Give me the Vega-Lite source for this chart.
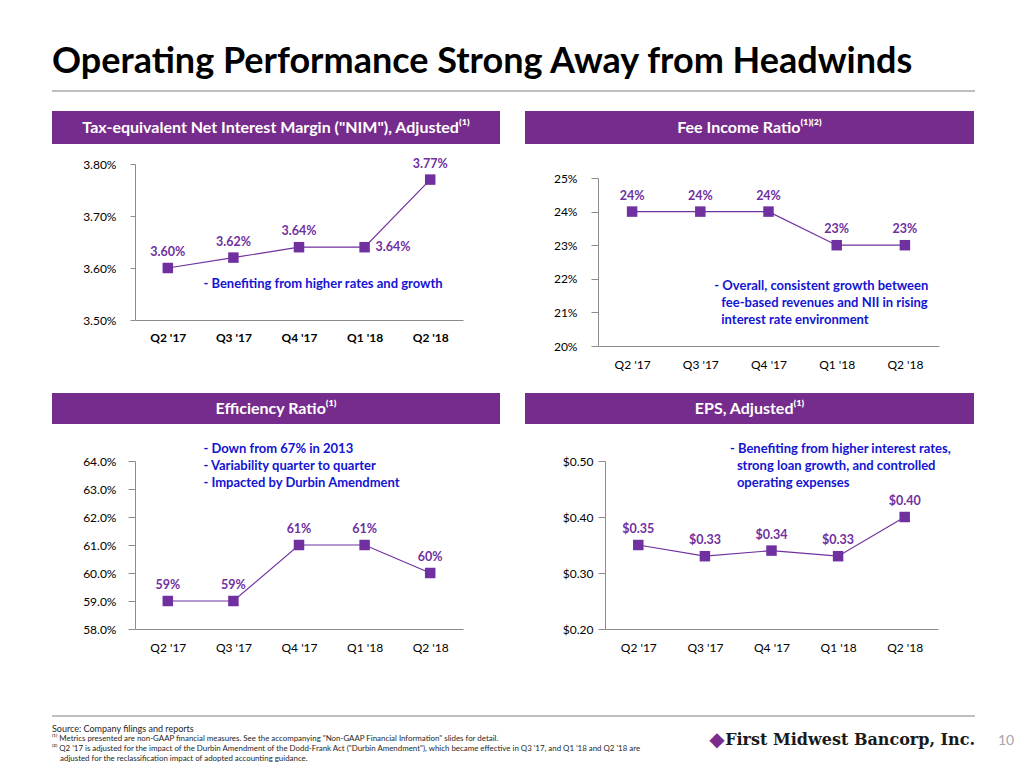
{
  "$schema": "https://vega.github.io/schema/vega-lite/v6.json",
  "background": "white",
  "padding": {"left": 52, "top": 44, "right": 0, "bottom": 0},
  "autosize": {"type": "pad"},
  "config": {
    "font": "Lato",
    "view": {"stroke": null},
    "axis": {"grid": false, "title": null, "domainColor": "#8C8C8C", "tickColor": "#8C8C8C", "labelColor": "#000000", "labelFontSize": 12, "labelFont": "Lato"},
    "axisX": {"ticks": false, "labelAngle": 0, "labelPadding": 12},
    "axisY": {"tickSize": 6}
  },
  "datasets": {
    "nim": [
      {"quarter": "Q2 '17", "value": 0.0360},
      {"quarter": "Q3 '17", "value": 0.0362},
      {"quarter": "Q4 '17", "value": 0.0364},
      {"quarter": "Q1 '18", "value": 0.0364},
      {"quarter": "Q2 '18", "value": 0.0377}
    ],
    "fee": [
      {"quarter": "Q2 '17", "value": 0.24},
      {"quarter": "Q3 '17", "value": 0.24},
      {"quarter": "Q4 '17", "value": 0.24},
      {"quarter": "Q1 '18", "value": 0.23},
      {"quarter": "Q2 '18", "value": 0.23}
    ],
    "eff": [
      {"quarter": "Q2 '17", "value": 0.59},
      {"quarter": "Q3 '17", "value": 0.59},
      {"quarter": "Q4 '17", "value": 0.61},
      {"quarter": "Q1 '18", "value": 0.61},
      {"quarter": "Q2 '18", "value": 0.60}
    ],
    "eps": [
      {"quarter": "Q2 '17", "value": 0.35},
      {"quarter": "Q3 '17", "value": 0.33},
      {"quarter": "Q4 '17", "value": 0.34},
      {"quarter": "Q1 '18", "value": 0.33},
      {"quarter": "Q2 '18", "value": 0.40}
    ]
  },
  "vconcat": [
    {
      "vconcat": [
        {
          "vconcat": [
            {
              "width": 923, "height": 2,
              "view": {"fill": "#BFBFBF", "stroke": null},
              "title": {"text": "Operating Performance Strong Away from Headwinds", "anchor": "start", "frame": "group", "orient": "top", "fontSize": 36, "fontWeight": "bold", "color": "#000000", "font": "Lato", "offset": 9},
              "data": {"values": [{}]},
              "mark": {"type": "rect", "color": "#BFBFBF"},
              "encoding": {}
            },
            {
              "hconcat": [
                {
                  "vconcat": [
                    {
                      "width": 448, "height": 33,
                      "view": {"fill": "#762C8C", "stroke": null},
                      "data": {"values": [{}]},
                      "mark": {"type": "text", "color": "#FFFFFF", "fontSize": 16, "fontWeight": "bold", "align": "center", "baseline": "middle"},
                      "encoding": {"text": {"value": "Tax-equivalent Net Interest Margin (\"NIM\"), Adjusted⁽¹⁾"}}
                    },
                    {
                      "width": 448, "height": 156,
                      "data": {"name": "nim"},
                      "encoding": {
                        "x": {"field": "quarter", "type": "ordinal", "sort": ["Q2 '17", "Q3 '17", "Q4 '17", "Q1 '18", "Q2 '18"], "scale": {"type": "point", "range": [83, 411], "padding": 0.5}, "axis": {"labelFontWeight": "bold"}},
                        "y": {"field": "value", "type": "quantitative", "scale": {"domain": [0.035, 0.038], "nice": false, "zero": false}, "axis": {"values": [0.035, 0.036, 0.037, 0.038], "format": ".2%", "offset": -83, "labelPadding": 14, "tickSize": 5}}
                      },
                      "layer": [
                        {"mark": {"type": "line", "color": "#7030A0", "strokeWidth": 1.2}},
                        {"mark": {"type": "point", "shape": "square", "filled": true, "size": 110, "color": "#7030A0", "opacity": 1}},
                        {"transform": [{"filter": "datum.quarter != \"Q1 '18\""}], "mark": {"type": "text", "color": "#7030A0", "fontSize": 12.5, "fontWeight": "bold", "baseline": "middle", "dy": -16}, "encoding": {"text": {"field": "value", "format": ".2%"}}},
                        {"transform": [{"filter": "datum.quarter == \"Q1 '18\""}], "mark": {"type": "text", "color": "#7030A0", "fontSize": 12.5, "fontWeight": "bold", "baseline": "middle", "align": "left", "dx": 11}, "encoding": {"text": {"field": "value", "format": ".2%"}}},
                        {"transform": [{"filter": "datum.quarter == \"Q3 '17\""}], "mark": {"type": "text", "color": "#1414D2", "fontSize": 13, "fontWeight": "bold", "align": "left", "baseline": "middle", "dx": -30}, "encoding": {"y": {"datum": 0.03569}, "text": {"value": "- Benefiting from higher rates and growth"}}}
                      ]
                    }
                  ],
                  "spacing": 20, "bounds": "flush"
                },
                {
                  "vconcat": [
                    {
                      "width": 449, "height": 33,
                      "view": {"fill": "#762C8C", "stroke": null},
                      "data": {"values": [{}]},
                      "mark": {"type": "text", "color": "#FFFFFF", "fontSize": 16, "fontWeight": "bold", "align": "center", "baseline": "middle"},
                      "encoding": {"text": {"value": "Fee Income Ratio⁽¹⁾⁽²⁾"}}
                    },
                    {
                      "width": 449, "height": 168,
                      "data": {"name": "fee"},
                      "encoding": {
                        "x": {"field": "quarter", "type": "ordinal", "sort": ["Q2 '17", "Q3 '17", "Q4 '17", "Q1 '18", "Q2 '18"], "scale": {"type": "point", "range": [73, 414], "padding": 0.5}, "axis": {"labelPadding": 13}},
                        "y": {"field": "value", "type": "quantitative", "scale": {"domain": [0.20, 0.25], "nice": false, "zero": false}, "axis": {"values": [0.20, 0.21, 0.22, 0.23, 0.24, 0.25], "format": ".0%", "offset": -73, "labelPadding": 14, "tickSize": 7}}
                      },
                      "layer": [
                        {"mark": {"type": "line", "color": "#7030A0", "strokeWidth": 1.2}},
                        {"mark": {"type": "point", "shape": "square", "filled": true, "size": 110, "color": "#7030A0", "opacity": 1}},
                        {"mark": {"type": "text", "color": "#7030A0", "fontSize": 12.5, "fontWeight": "bold", "baseline": "middle", "dy": -16}, "encoding": {"text": {"field": "value", "format": ".0%"}}},
                        {"transform": [{"filter": "datum.quarter == \"Q3 '17\""}], "mark": {"type": "text", "color": "#1414D2", "fontSize": 13, "fontWeight": "bold", "align": "left", "baseline": "top", "dx": 14}, "encoding": {"y": {"datum": 0.2197}, "text": {"value": "- Overall, consistent growth between"}}},
                        {"transform": [{"filter": "datum.quarter == \"Q3 '17\""}], "mark": {"type": "text", "color": "#1414D2", "fontSize": 13, "fontWeight": "bold", "align": "left", "baseline": "top", "lineHeight": 17, "dx": 21, "dy": 17}, "encoding": {"y": {"datum": 0.2197}, "text": {"value": ["fee-based revenues and NII in rising", "interest rate environment"]}}}
                      ]
                    }
                  ],
                  "spacing": 34, "bounds": "flush"
                }
              ],
              "spacing": 25
            }
          ],
          "spacing": 19
        },
        {
          "hconcat": [
            {
              "vconcat": [
                {
                  "width": 448, "height": 31,
                  "view": {"fill": "#762C8C", "stroke": null},
                  "data": {"values": [{}]},
                  "mark": {"type": "text", "color": "#FFFFFF", "fontSize": 16, "fontWeight": "bold", "align": "center", "baseline": "middle"},
                  "encoding": {"text": {"value": "Efficiency Ratio⁽¹⁾"}}
                },
                {
                  "width": 448, "height": 168,
                  "data": {"name": "eff"},
                  "encoding": {
                    "x": {"field": "quarter", "type": "ordinal", "sort": ["Q2 '17", "Q3 '17", "Q4 '17", "Q1 '18", "Q2 '18"], "scale": {"type": "point", "range": [83, 411], "padding": 0.5}, "axis": {"labelPadding": 13}},
                    "y": {"field": "value", "type": "quantitative", "scale": {"domain": [0.58, 0.64], "nice": false, "zero": false}, "axis": {"values": [0.58, 0.59, 0.60, 0.61, 0.62, 0.63, 0.64], "format": ".1%", "offset": -83, "labelPadding": 12, "tickSize": 7}}
                  },
                  "layer": [
                    {"mark": {"type": "line", "color": "#7030A0", "strokeWidth": 1.2}},
                    {"mark": {"type": "point", "shape": "square", "filled": true, "size": 110, "color": "#7030A0", "opacity": 1}},
                    {"mark": {"type": "text", "color": "#7030A0", "fontSize": 12.5, "fontWeight": "bold", "baseline": "middle", "dy": -16}, "encoding": {"text": {"field": "value", "format": ".0%"}}},
                    {"transform": [{"filter": "datum.quarter == \"Q3 '17\""}], "mark": {"type": "text", "color": "#1414D2", "fontSize": 13, "fontWeight": "bold", "align": "left", "baseline": "top", "lineHeight": 17, "dx": -30, "dy": -158}, "encoding": {"text": {"value": ["- Down from 67% in 2013", "- Variability quarter to quarter", "- Impacted by Durbin Amendment"]}}}
                  ]
                }
              ],
              "spacing": 37, "bounds": "flush"
            },
            {
              "vconcat": [
                {
                  "width": 449, "height": 31,
                  "view": {"fill": "#762C8C", "stroke": null},
                  "data": {"values": [{}]},
                  "mark": {"type": "text", "color": "#FFFFFF", "fontSize": 16, "fontWeight": "bold", "align": "center", "baseline": "middle"},
                  "encoding": {"text": {"value": "EPS, Adjusted⁽¹⁾"}}
                },
                {
                  "width": 449, "height": 168,
                  "data": {"name": "eps"},
                  "encoding": {
                    "x": {"field": "quarter", "type": "ordinal", "sort": ["Q2 '17", "Q3 '17", "Q4 '17", "Q1 '18", "Q2 '18"], "scale": {"type": "point", "range": [80, 413], "padding": 0.5}, "axis": {"labelPadding": 13}},
                    "y": {"field": "value", "type": "quantitative", "scale": {"domain": [0.2, 0.5], "nice": false, "zero": false}, "axis": {"values": [0.2, 0.3, 0.4, 0.5], "format": "$.2f", "offset": -80, "labelPadding": 5, "tickSize": 7}}
                  },
                  "layer": [
                    {"mark": {"type": "line", "color": "#7030A0", "strokeWidth": 1.2}},
                    {"mark": {"type": "point", "shape": "square", "filled": true, "size": 110, "color": "#7030A0", "opacity": 1}},
                    {"mark": {"type": "text", "color": "#7030A0", "fontSize": 12.5, "fontWeight": "bold", "baseline": "middle", "dy": -16}, "encoding": {"text": {"field": "value", "format": "$.2f"}}},
                    {"transform": [{"filter": "datum.quarter == \"Q3 '17\""}], "mark": {"type": "text", "color": "#1414D2", "fontSize": 13, "fontWeight": "bold", "align": "left", "baseline": "top", "dx": 25, "dy": -113}, "encoding": {"text": {"value": "- Benefiting from higher interest rates,"}}},
                    {"transform": [{"filter": "datum.quarter == \"Q3 '17\""}], "mark": {"type": "text", "color": "#1414D2", "fontSize": 13, "fontWeight": "bold", "align": "left", "baseline": "top", "lineHeight": 17, "dx": 32, "dy": -96}, "encoding": {"text": {"value": ["strong loan growth, and controlled", "operating expenses"]}}}
                  ]
                }
              ],
              "spacing": 37, "bounds": "flush"
            }
          ],
          "spacing": 25
        }
      ],
      "spacing": 23
    },
    {
      "width": 923, "height": 2,
      "view": {"fill": "#BFBFBF", "stroke": null},
      "title": {"text": "Source: Company filings and reports", "subtitle": ["⁽¹⁾ Metrics presented are non-GAAP financial measures. See the accompanying \"Non-GAAP Financial Information\" slides for detail.", "⁽²⁾ Q2 '17 is adjusted for the impact of the Durbin Amendment of the Dodd-Frank Act  (\"Durbin Amendment\"), which became effective in Q3 '17, and Q1 '18 and Q2 '18 are", "\u200B\u00a0\u00a0\u00a0\u00a0adjusted for the reclassification impact of adopted accounting guidance."], "orient": "bottom", "anchor": "start", "frame": "group", "offset": -25, "fontSize": 9, "fontWeight": "normal", "color": "#262626", "font": "Lato", "subtitleFont": "Lato", "subtitleFontSize": 7.9, "subtitleColor": "#262626", "subtitleLineHeight": 10, "subtitlePadding": 1},
      "data": {"values": [{}]},
      "layer": [
        {"mark": {"type": "text", "font": "DejaVu Serif", "fontSize": 16, "fontWeight": "bold", "align": "right", "baseline": "middle", "dy": 24, "color": "#1A1A1A"}, "encoding": {"x": {"value": "width"}, "text": {"value": "First Midwest Bancorp, Inc."}}},
        {"mark": {"type": "text", "font": "DejaVu Sans", "fontSize": 20, "align": "center", "baseline": "middle", "dy": 24, "dx": -258, "color": "#7B2C8D"}, "encoding": {"x": {"value": "width"}, "text": {"value": "◆"}}},
        {"mark": {"type": "text", "fontSize": 14, "align": "center", "baseline": "middle", "dy": 25, "dx": 31, "color": "#A6A6A6"}, "encoding": {"x": {"value": "width"}, "text": {"value": "10"}}}
      ]
    }
  ],
  "spacing": 62
}
